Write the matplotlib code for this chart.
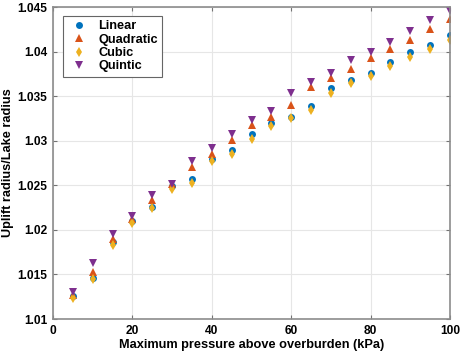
import numpy as np
import matplotlib
matplotlib.use("Agg")
import matplotlib.pyplot as plt
from matplotlib.ticker import FuncFormatter

# pressure values (kPa)
pressure = [5, 10, 15, 20, 25, 30, 35, 40, 45, 50,
            55, 60, 65, 70, 75, 80, 85, 90, 95, 100]

# uplift radius / lake radius for each interpolation
linear = [1.0126, 1.0146, 1.0186, 1.0210, 1.0226, 1.0249, 1.0257, 1.0280, 1.0290, 1.0308,
          1.0320, 1.0327, 1.0339, 1.0359, 1.0368, 1.0376, 1.0388, 1.0400, 1.0407, 1.0419]
quadratic = [1.0127, 1.0153, 1.0190, 1.0212, 1.0233, 1.0251, 1.0270, 1.0285, 1.0301, 1.0318,
             1.0327, 1.0340, 1.0360, 1.0370, 1.0380, 1.0393, 1.0403, 1.0413, 1.0425, 1.0436]
cubic = [1.0124, 1.0145, 1.0183, 1.0208, 1.0224, 1.0246, 1.0253, 1.0277, 1.0285, 1.0302,
         1.0316, 1.0325, 1.0334, 1.0354, 1.0365, 1.0373, 1.0384, 1.0394, 1.0403, 1.0413]
quintic = [1.0130, 1.0163, 1.0195, 1.0215, 1.0239, 1.0252, 1.0277, 1.0292, 1.0308, 1.0323,
           1.0333, 1.0354, 1.0366, 1.0376, 1.0390, 1.0400, 1.0411, 1.0423, 1.0435, 1.0445]

series = [
    ("Linear", linear, "o", "#0072BD", 5.0),
    ("Quadratic", quadratic, "^", "#D95319", 5.5),
    ("Cubic", cubic, "d", "#EDB120", 5.5),
    ("Quintic", quintic, "v", "#7E2F8E", 5.5),
]

plt.rcParams["font.family"] = ["Liberation Sans", "DejaVu Sans"]
plt.rcParams["font.weight"] = "bold"

fig = plt.figure(figsize=(4.62, 3.53), dpi=100)
ax = fig.add_axes([53 / 462, 1 - 319 / 353, (450 - 53) / 462, (319 - 7) / 353])

for name, vals, mk, col, ms in series:
    ax.plot(pressure, vals, linestyle="none", marker=mk, color=col,
            markersize=ms, markeredgewidth=0, label=name)

ax.set_xlim(0, 100)
ax.set_ylim(1.01, 1.045)
ax.set_xticks(np.arange(0, 101, 20))
ax.set_yticks(np.arange(1.01, 1.0451, 0.005))
ax.yaxis.set_major_formatter(FuncFormatter(lambda v, p: f"{v:g}"))

ax.grid(True, color="0.9", linewidth=0.8)
ax.set_axisbelow(True)
for s in ax.spines.values():
    s.set_color("0.55")
    s.set_linewidth(1.2)
ax.tick_params(direction="in", length=3, width=0.8, color="0.45",
               top=True, right=True, labelsize=8.6, pad=4)
for lab in ax.get_xticklabels() + ax.get_yticklabels():
    lab.set_fontweight("bold")

ax.set_xlabel("Maximum pressure above overburden (kPa)", fontsize=9.2,
              fontweight="bold", labelpad=2)
ax.set_ylabel("Uplift radius/Lake radius", fontsize=9.2, fontweight="bold")
ax.yaxis.set_label_coords(-39 / 397, 0.5)

leg = ax.legend(loc="upper left", bbox_to_anchor=(10 / 397, 1 - 9 / 312), fontsize=9.2,
                frameon=True, fancybox=False, edgecolor="0.4", framealpha=1,
                borderaxespad=0, handletextpad=0.6, borderpad=0.35, labelspacing=0.1,
                handlelength=1.8)
leg.get_frame().set_linewidth(0.8)
for t in leg.get_texts():
    t.set_fontweight("bold")

fig.savefig("out.png", dpi=100)
